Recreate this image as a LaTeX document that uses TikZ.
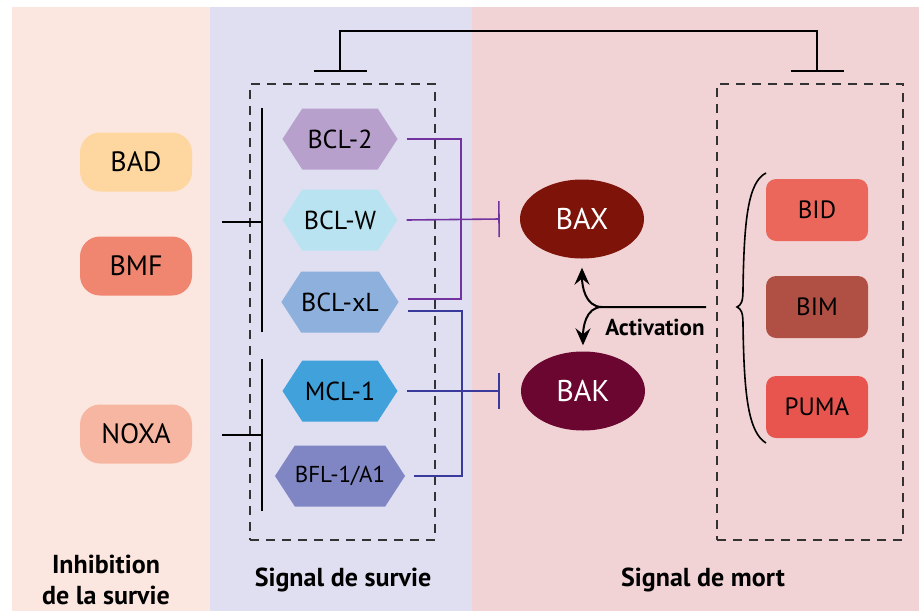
\documentclass[tikz,border=0pt]{standalone}
\usepackage{fontspec}
\setmainfont{PT Sans}
\usetikzlibrary{shapes.geometric,shapes.symbols,arrows.meta}

\definecolor{bgpeach}{HTML}{FCE7E0}
\definecolor{bglav}{HTML}{DFDFF1}
\definecolor{bgpink}{HTML}{F2D3D5}
\definecolor{badcol}{HTML}{FDD6A0}
\definecolor{bmfcol}{HTML}{F08570}
\definecolor{noxacol}{HTML}{F7B6A1}
\definecolor{bcltwocol}{HTML}{B8A0CC}
\definecolor{bclwcol}{HTML}{BAE3F1}
\definecolor{bclxlcol}{HTML}{8EB0DD}
\definecolor{mclcol}{HTML}{40A1DB}
\definecolor{bflcol}{HTML}{7F86C3}
\definecolor{baxcol}{HTML}{7E130A}
\definecolor{bakcol}{HTML}{6A0630}
\definecolor{bidcol}{HTML}{EC675B}
\definecolor{bimcol}{HTML}{B04F43}
\definecolor{pumacol}{HTML}{E8554F}
\definecolor{purpcol}{HTML}{7232A0}
\definecolor{navycol}{HTML}{3A3A9C}

\begin{document}
\begin{tikzpicture}[x=1pt,y=-1pt]

    \tikzset{
      sensitizer/.style={
        rounded corners=20pt,
        minimum width=112pt,
        minimum height=59pt,
        font=\fontsize{28}{32}\selectfont,
      },
      prosurvival/.style={
        shape=signal,
        signal to=west and east,
        signal pointer angle=114,
        minimum width=115pt,
        minimum height=61pt,
        inner sep=0pt,
        font=\fontsize{26}{30}\selectfont,
      },
      effector/.style={
        ellipse,
        minimum width=124pt,
        minimum height=79pt,
        text=white,
        font=\fontsize{30}{34}\selectfont,
      },
      activator/.style={
        rounded corners=10pt,
        minimum width=102pt,
        minimum height=62pt,
        font=\fontsize{25}{30}\selectfont,
      },
      dashbox/.style={
        draw=black!80,
        line width=1.2pt,
        dash pattern=on 9pt off 7pt,
      },
      blk/.style={black, line width=2pt},
      purpline/.style={purpcol, line width=1.6pt},
      navyline/.style={navycol, line width=1.6pt},
      lab/.style={font=\bfseries\fontsize{26}{31}\selectfont},
      activtip/.style={-{Stealth[length=17pt,width=15pt,inset=6pt]}},
    }
    \useasboundingbox (0,0) rectangle (919,611);
    \fill[white] (0,0) rectangle (919,611);
    \fill[bgpeach] (12,7) rectangle (210,611);
    \fill[bglav] (210,7) rectangle (472,611);
    \fill[bgpink] (472,7) rectangle (919,611);

    % groups
    \node[dashbox, minimum width=185pt, minimum height=456pt] (survbox) at (342.5,312) {};
    \node[dashbox, minimum width=186pt, minimum height=456pt] (mortbox) at (810,312) {};

    % inhibition de la survie
    \node[sensitizer, fill=badcol] (bad) at (136,162) {BAD};
    \node[sensitizer, fill=bmfcol] (bmf) at (136,266) {BMF};
    \node[sensitizer, fill=noxacol] (noxa) at (136,434) {NOXA};

    % signal de survie
    \node[prosurvival, fill=bcltwocol] (bcl2) at (340,139) {BCL-2};
    \node[prosurvival, fill=bclwcol] (bclw) at (340,220) {BCL-W};
    \node[prosurvival, fill=bclxlcol] (bclxl) at (340,302) {BCL-xL};
    \node[prosurvival, fill=mclcol] (mcl1) at (340,391) {MCL-1};
    \node[prosurvival, fill=bflcol, font=\fontsize{23}{26}\selectfont] (bfl) at (340,476) {BFL-1/A1};

    % signal de mort
    \node[effector, fill=baxcol] (bax) at (582,219) {BAX};
    \node[effector, fill=bakcol] (bak) at (583,391) {BAK};
    \node[activator, fill=bidcol] (bid) at (817,210) {BID};
    \node[activator, fill=bimcol] (bim) at (817,307) {BIM};
    \node[activator, fill=pumacol] (puma) at (817,407) {PUMA};

    % inhibitions
    \draw[blk] (262,108) -- (262,332);
    \draw[blk] (222,222) -- (262,222);
    \draw[blk] (262,359) -- (262,511);
    \draw[blk] (222,435) -- (262,435);

    \coordinate (survT) at (340,72);
    \coordinate (mortT) at (817,72);
    \draw[blk, {Bar[width=53pt]}-{Bar[width=53pt]}] (survT) -- (340,31) -- (817,31) -- (mortT);

    \draw[purpline] ([xshift=9pt]bcl2.east) -- ++(54,0) |- ([xshift=9pt,yshift=3pt]bclxl.east);
    \draw[purpline, -{Bar[width=36pt]}] ([xshift=9pt]bclw.east) -- ([xshift=-20pt]bax.west);
    \draw[navyline] ([xshift=9pt,yshift=-9pt]bclxl.east) -- ++(54,0) |- ([xshift=9pt]bfl.east);
    \draw[navyline, -{Bar[width=36pt]}] ([xshift=9pt]mcl1.east) -- ([xshift=-21pt]bak.west);

    % activation
    \coordinate (act) at (706,307);
    \coordinate (split) at (602,307);
    \draw[blk, activtip] (act) -- (split) to[out=180,in=-90] ([yshift=-9pt]bax.south);
    \draw[blk, activtip] (split) to[out=180,in=90] ([yshift=6pt]bak.north);
    \node[font=\bfseries\fontsize{23}{26}\selectfont] (actlab) at (655,327) {Activation};
    \draw[black, line width=1.6pt] (766,173) .. controls (748,182) and (744,220) .. (743,290)
      .. controls (743,302) and (741,305) .. (737,307)
      .. controls (741,309) and (743,312) .. (743,324)
      .. controls (744,394) and (748,432) .. (766,443);

    % legendes
    \node[lab, align=center] (inhlab) at (106,580) {Inhibition\\de la survie};
    \node[lab] (survlab) at (343,580) {Signal de survie};
    \node[lab] (mortlab) at (703,580) {Signal de mort};

\end{tikzpicture}
\end{document}
